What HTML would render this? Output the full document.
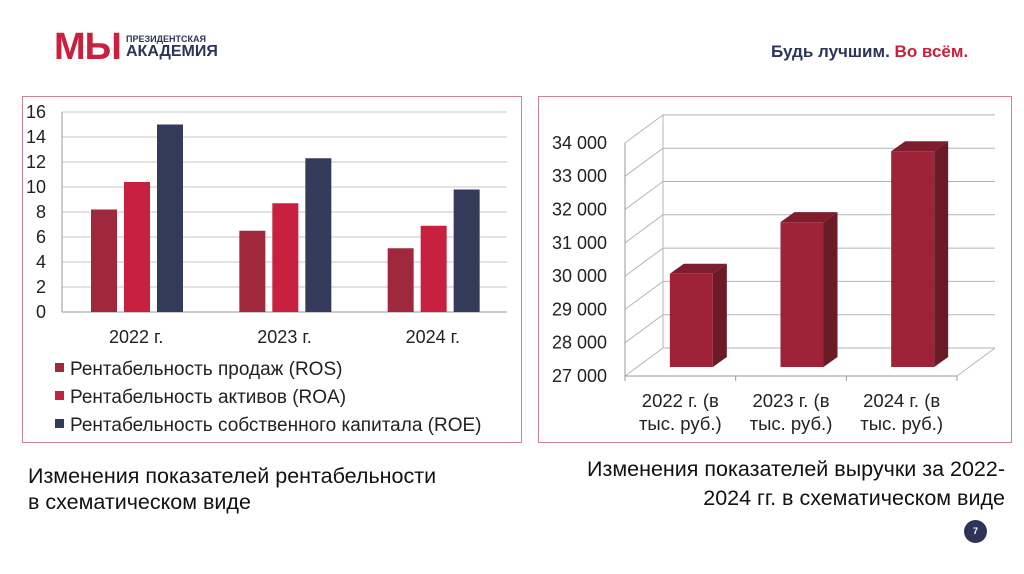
<!DOCTYPE html>
<html><head><meta charset="utf-8"><style>
body{margin:0;width:1024px;height:574px;background:#fff;font-family:"Liberation Sans","DejaVu Sans",sans-serif;position:relative;overflow:hidden}
.abs{position:absolute}
</style></head><body>
<div class="abs" style="left:54px;top:32px;height:34px">
<span style="position:absolute;left:0;top:-6px;font-size:38px;font-weight:bold;color:#c8203f;letter-spacing:-1px">МЫ</span>
<span style="position:absolute;left:72px;top:2px;font-size:9px;font-weight:bold;color:#2c3558;white-space:nowrap">ПРЕЗИДЕНТСКАЯ</span>
<span style="position:absolute;left:72px;top:11px;font-size:16px;font-weight:bold;color:#2c3558;white-space:nowrap">АКАДЕМИЯ</span>
</div>
<div class="abs" style="left:771px;top:42px;font-size:17px;font-weight:bold;color:#2c3558;white-space:nowrap">Будь лучшим. <span style="color:#c8203f">Во всём.</span></div>

<div class="abs" style="left:22px;top:96px;width:498px;height:345px;border:1px solid #c98591"></div>
<div class="abs" style="left:538px;top:96px;width:472px;height:345px;border:1px solid #c98591"></div>

<svg class="abs" style="left:0;top:0" width="1024" height="574" id="svg"></svg>

<div class="abs" style="left:28px;top:463px;font-size:21.5px;line-height:26px;color:#111;white-space:nowrap">Изменения показателей рентабельности<br>в схематическом виде</div>
<div class="abs" style="left:520px;top:455px;width:485px;text-align:right;font-size:21.5px;line-height:29px;color:#111;white-space:nowrap">Изменения показателей выручки за 2022-<br>2024 гг. в схематическом виде</div>
<div class="abs" style="left:964px;top:520px;width:23px;height:23px;border-radius:50%;background:#2c3558;color:#fff;font-size:9px;font-weight:bold;text-align:center;line-height:23px">7</div>

<script>
const leftCategories=["2022 г.","2023 г.","2024 г."];
const rosValues=[8.2,6.5,5.1];
const roaValues=[10.4,8.7,6.9];
const roeValues=[15.0,12.3,9.8];
const leftTicks=[0,2,4,6,8,10,12,14,16];
const seriesNames=["Рентабельность продаж (ROS)","Рентабельность активов (ROA)","Рентабельность собственного капитала (ROE)"];
const rightCategories=[["2022 г. (в","тыс. руб.)"],["2023 г. (в","тыс. руб.)"],["2024 г. (в","тыс. руб.)"]];
const revenueValues=[29800,31350,33480];
const rightTicks=[27000,28000,29000,30000,31000,32000,33000,34000];

const svg=document.getElementById('svg');
const NS='http://www.w3.org/2000/svg';
function mk(tag,attrs,name){const e=document.createElementNS(NS,tag);for(const k in attrs)e.setAttribute(k,attrs[k]);


svg.appendChild(e);return e;}

// left chart
const lx0=62,lx1=507,ly0=312,ly1=112;
const ly=v=>ly0-(v-0)/(16-0)*(ly0-ly1);
const gw=(lx1-lx0)/leftCategories.length;
leftTicks.forEach(t=>{
 mk('line',{x1:lx0,x2:lx1,y1:ly(t),y2:ly(t),stroke:t===0?'#999':'#c4c4c4','stroke-width':1},'left-gridline');
 const tx=mk('text',{x:46,y:ly(t)+6,'text-anchor':'end','font-size':18,fill:'#222'},'left-y-tick');tx.textContent=t;
});
mk('line',{x1:lx0,x2:lx0,y1:ly1,y2:ly0,stroke:'#999'},'left-y-axis');
const colors=['#a0283c','#c8203f','#333a5a'];
const series=[rosValues,roaValues,roeValues];
leftCategories.forEach((c,i)=>{
 const gx=lx0+gw*i;
 series.forEach((s,j)=>{
  const x=gx+29+j*33;
  mk('rect',{x:x,y:ly(s[i]),width:26,height:ly0-ly(s[i]),fill:colors[j]},'left-bar');
 });
 const tx=mk('text',{x:gx+gw/2,y:343,'text-anchor':'middle','font-size':18,fill:'#222'},'left-x-label');tx.textContent=c;
});
seriesNames.forEach((n,j)=>{
 const y=368+j*28;
 mk('rect',{x:55,y:y-5,width:9,height:9,fill:colors[j]},'legend-swatch');
 const tx=mk('text',{x:70,y:y+7,'font-size':19,fill:'#222'},'legend-entry');tx.textContent=n;
});

// right chart (3D)
const fx0=625,fx1=957,fy0=376,pxPer=33.3/1000,dx=38,dy=-28;
const ry=v=>fy0-(v-27000)*pxPer;
rightTicks.forEach((t,k)=>{
 const y=ry(t);
 mk('line',{x1:fx0,y1:y,x2:fx0+dx,y2:y+dy,stroke:'#b5b5b5'},'right-wall-diagonal');
 mk('line',{x1:fx0+dx,y1:y+dy,x2:fx1+dx,y2:y+dy,stroke:'#b5b5b5'},'right-gridline');
 const tx=mk('text',{x:607,y:y+6,'text-anchor':'end','font-size':18,fill:'#222'},'right-y-tick');tx.textContent=t.toLocaleString('ru-RU').replace(/\s/g,' ');
});
mk('line',{x1:fx0+dx,y1:fy0+dy,x2:fx0+dx,y2:ry(34000)+dy,stroke:'#b5b5b5'},'right-back-wall-edge');
mk('line',{x1:fx0,y1:fy0,x2:fx0,y2:ry(34000),stroke:'#999'},'right-y-axis');
mk('line',{x1:fx0,y1:fy0,x2:fx1,y2:fy0,stroke:'#999'},'right-x-axis');
mk('line',{x1:fx1,y1:fy0,x2:fx1+dx,y2:fy0+dy,stroke:'#b5b5b5'},'right-floor-edge');
const cw=(fx1-fx0)/revenueValues.length;
for(let i=0;i<=3;i++) mk('line',{x1:fx0+cw*i,y1:fy0,x2:fx0+cw*i,y2:fy0+5,stroke:'#999'},'right-x-tick');
revenueValues.forEach((v,i)=>{
 const cx=fx0+cw*i+cw/2+11, w=43, x=cx-w/2, by=fy0-9, ty=by-(v-27000)*pxPer, bd=14, bh=-10;
 mk('polygon',{points:`${x+w},${by} ${x+w+bd},${by+bh} ${x+w+bd},${ty+bh} ${x+w},${ty}`,fill:'#6b1a28'},'revenue-bar-side');
 mk('polygon',{points:`${x},${ty} ${x+bd},${ty+bh} ${x+w+bd},${ty+bh} ${x+w},${ty}`,fill:'#7d1d2e'},'revenue-bar-top');
 mk('rect',{x:x,y:ty,width:w,height:by-ty,fill:'#9e2238'},'revenue-bar');
 rightCategories[i].forEach((l,k)=>{
  const tx=mk('text',{x:fx0+cw*i+cw/2,y:407+k*23,'text-anchor':'middle','font-size':18.5,fill:'#222'},'right-x-label');tx.textContent=l;
 });
});
</script>
</body></html>
